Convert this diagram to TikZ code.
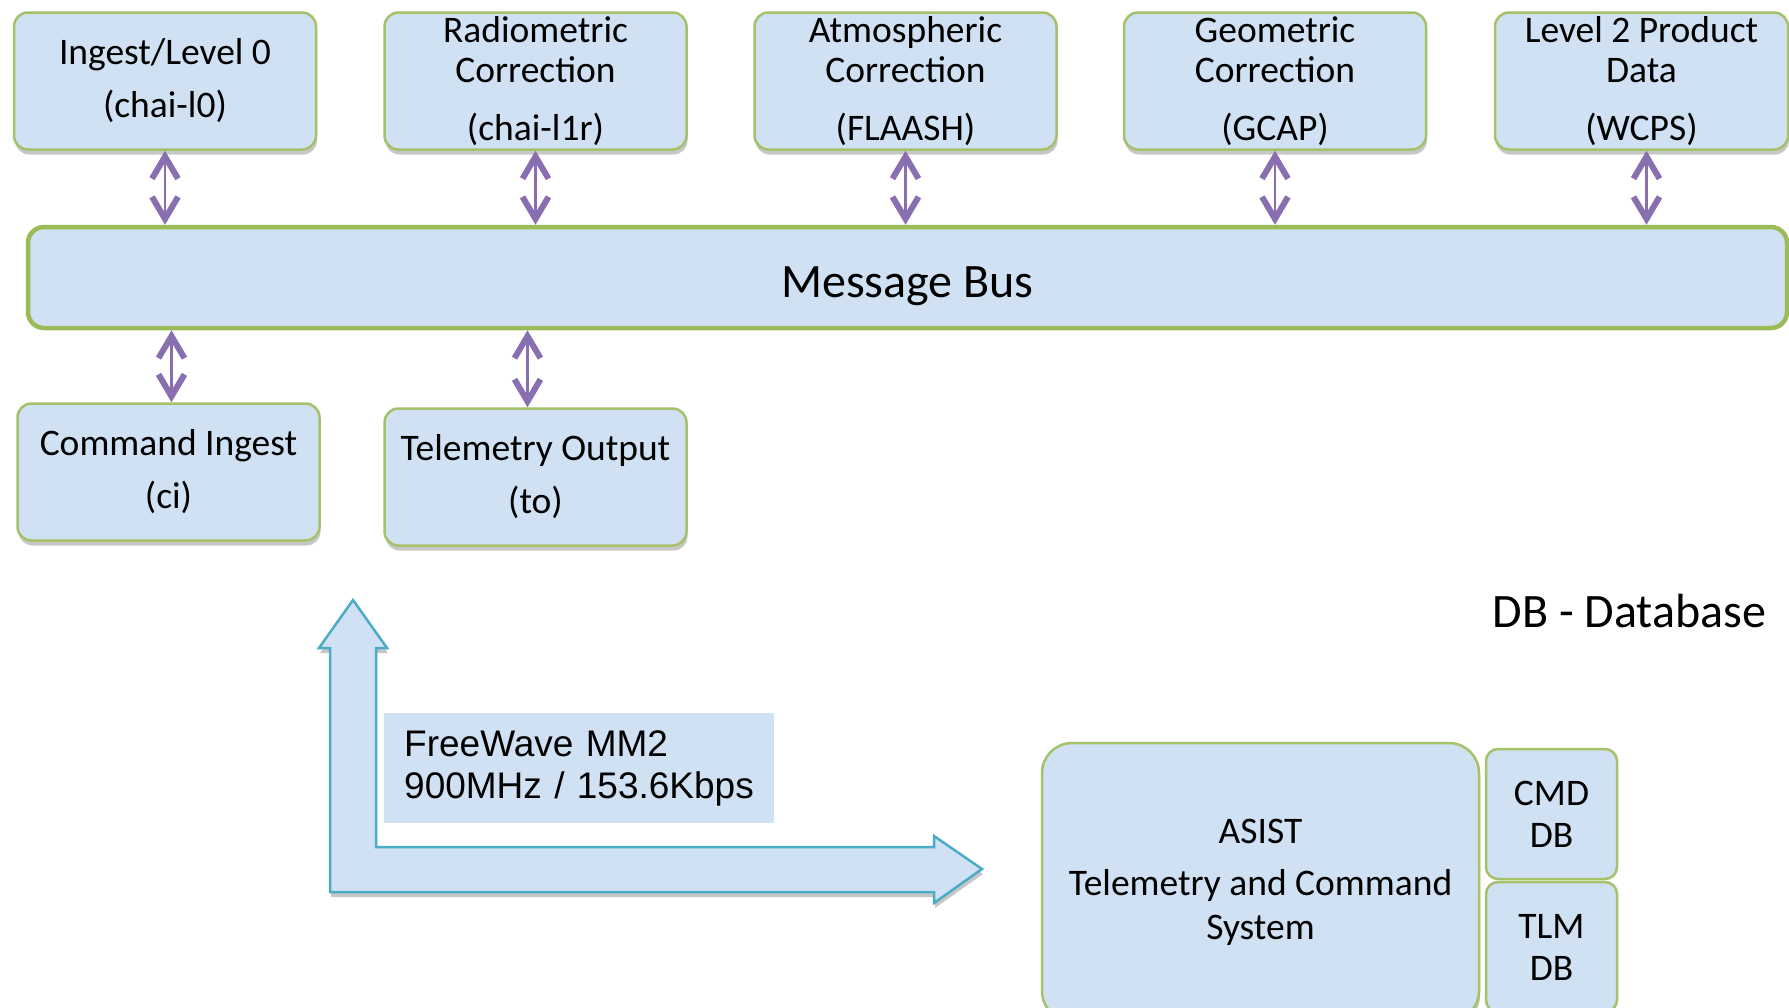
\documentclass[tikz,border=0pt]{standalone}
\usepackage{fontspec}
\setmainfont{Carlito}
\newfontfamily\arialfont{Liberation Sans}
\usetikzlibrary{arrows.meta, shadows}

\definecolor{boxblue}{HTML}{D0E1F3}
\definecolor{boxgreen}{HTML}{9BBB59}
\definecolor{busviolet}{HTML}{8A6FB0}
\definecolor{linkcyan}{HTML}{4BACC6}

\begin{document}
\begin{tikzpicture}[x=1pt, y=-1pt,
    softshadow/.style={drop shadow={shadow xshift=1pt, shadow yshift=-5pt, fill=black, opacity=0.22}},
    topbox/.style={rectangle, rounded corners=14pt, fill=boxblue, draw=boxgreen!90!white, line width=2.5pt,
        minimum width=302pt, minimum height=137pt, inner sep=0pt, align=center,
        font=\fontsize{37.5}{40}\selectfont, softshadow},
    busbox/.style={rectangle, rounded corners=16pt, fill=boxblue, draw=boxgreen, line width=4.5pt,
        minimum width=1759pt, minimum height=101pt, text height=39pt, text depth=0pt,
        font=\fontsize{48}{52}\selectfont},
    dbbox/.style={rectangle, rounded corners=12pt, fill=boxblue, draw=boxgreen!90!white, line width=2.5pt,
        minimum width=131pt, minimum height=130pt, inner sep=0pt, align=center,
        font=\fontsize{37.5}{42}\selectfont},
    busarrow/.style={draw=busviolet, line width=2.4pt,
        {Straight Barb[length=22pt, width=26pt, line width=6pt]}-{Straight Barb[length=22pt, width=26pt, line width=6pt]}}]

    \clip (0,0) rectangle (1789,1007);
    \fill[white] (0,0) rectangle (1789,1007);

    % Processing stages
    \node[topbox] (ingest) at (165,81) {Ingest/Level 0\\[13pt](chai-l0)};
    \node[topbox] (radio) at (535.5,81) {Radiometric\\Correction\\[18pt](chai-l1r)};
    \node[topbox] (atmos) at (905.5,81) {Atmospheric\\Correction\\[18pt](FLAASH)};
    \node[topbox] (geom) at (1275,81) {Geometric\\Correction\\[18pt](GCAP)};
    \node[topbox, minimum width=293pt] (level2) at (1641.5,81) {Level 2 Product\\Data\\[18pt](WCPS)};

    % Bus
    \node[busbox] (bus) at (907.5,277.5) {Message Bus};

    \node[topbox] (cmdin) at (168.5,472) {Command Ingest\\[13pt](ci)};
    \node[topbox] (tlmout) at (535.5,477) {Telemetry Output\\[13pt](to)};

    % Bus links
    \foreach \stage in {ingest, radio, atmos, geom}
        \draw[busarrow] (\stage.south) -- (\stage.south |- bus.north);
    \draw[busarrow] ([xshift=5pt]level2.south) -- ([xshift=5pt]level2.south |- bus.north);
    \draw[busarrow] ([xshift=3pt]cmdin.north |- bus.south) -- ([xshift=3pt]cmdin.north);
    \draw[busarrow] ([xshift=-8pt]tlmout.north |- bus.south) -- ([xshift=-8pt]tlmout.north);

    \node[anchor=base west, font=\fontsize{48}{52}\selectfont] (dblegend) at (1489,627) {DB - Database};

    % Radio link
    \draw[fill=boxblue, draw=linkcyan, line width=2.5pt, line join=miter, softshadow]
        (353,600) -- (387,648) -- (376,648) -- (376,847) -- (934,847) -- (934,836)
        -- (982,869) -- (934,903) -- (934,892) -- (330,892) -- (330,648) -- (319,648) -- cycle;
    \node[anchor=north west, fill=boxblue, text width=350pt, inner xsep=20pt,
        minimum height=110pt, align=left, font=\arialfont\fontsize{37}{42}\selectfont]
        (freewave) at (384,713) {FreeWave MM2\\900MHz / 153.6Kbps};

    % Ground system
    \node[topbox, rounded corners=30pt, minimum width=437pt, minimum height=278pt,
        font=\fontsize{37.5}{44}\selectfont] (asist) at (1260.5,882) {ASIST\\[8pt]Telemetry and Command\\System};
    \node[dbbox] (cmddb) at (1551.5,814) {CMD\\DB};
    \node[dbbox] (tlmdb) at (1551.5,947) {TLM\\DB};
\end{tikzpicture}
\end{document}
